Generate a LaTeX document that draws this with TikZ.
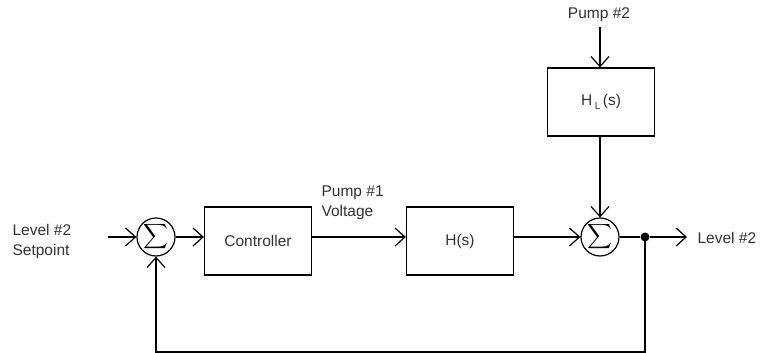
\documentclass[tikz,border=0pt]{standalone}
\usepackage{fontspec}
\setmainfont{Liberation Sans}
\usetikzlibrary{arrows.meta}
\definecolor{txt}{HTML}{333333}
\begin{document}
\begin{tikzpicture}[x=1pt,y=1pt,
  line width=1.2pt,
  every node/.style={font=\fontsize{15.5}{20}\selectfont,text=txt},
  blockbox/.style={draw=black,line width=1.2pt,minimum width=107pt,minimum height=68pt,inner sep=0pt},
  sumnode/.style={draw=black,circle,line width=1.2pt,minimum size=38pt,inner sep=0pt,text=black},
  sig/.style={-{Straight Barb[length=10pt,width=18pt,line width=1.2pt]}},
  lbl/.style={align=left,inner sep=0pt}]
\useasboundingbox (0,0) rectangle (760,-353);
\fill[white] (0,0) rectangle (760,-353);
% nodes
\node[sumnode] (s1) at (156,-237) {\resizebox{!}{20pt}{$\displaystyle\sum$}};
\node[blockbox] (ctrl) at (258,-241) {Controller};
\node[blockbox] (hs) at (460,-241) {H(s)};
\node[sumnode] (s2) at (600,-237) {\resizebox{!}{20pt}{$\displaystyle\sum$}};
\node[blockbox] (hl) at (601,-102) {H\,\raisebox{-4pt}{\fontsize{10}{10}\selectfont L}\,(s)};
\node[circle,fill=black,inner sep=0pt,minimum size=9pt] (dot) at (645,-237) {};
% labels
\node[lbl,anchor=west] (lin) at (12,-241.5) {Level \#2\\Setpoint};
\node[lbl,anchor=west] (lp1) at (321,-202.5) {Pump \#1\\Voltage};
\node[lbl] (lp2) at (599,-15) {Pump \#2};
\node[lbl,anchor=west] (lout) at (697,-238) {Level \#2};
\coordinate (cin) at (108,-237);
\coordinate (cp2) at (600,-27);
\coordinate (cout) at (687,-237);
\coordinate (fbr) at (645,-352);
\coordinate (fbl) at (156,-352);
% connectors
\draw[sig] (cin) -- (s1.west);
\draw[sig] (s1.east) -- (s1.east -| ctrl.west);
\draw[sig] (s1 -| ctrl.east) -- (s1 -| hs.west);
\draw[sig] (s1 -| hs.east) -- (s2.west);
\draw[sig] (cp2) -- (cp2 |- hl.north);
\draw[sig] (s2 |- hl.south) -- (s2.north);
\draw (s2.east) -- (dot);
\draw[sig] (dot) -- (cout);
\draw[sig] (dot.center) -- (fbr) -- (fbl) -- (s1.south);
\end{tikzpicture}
\end{document}
